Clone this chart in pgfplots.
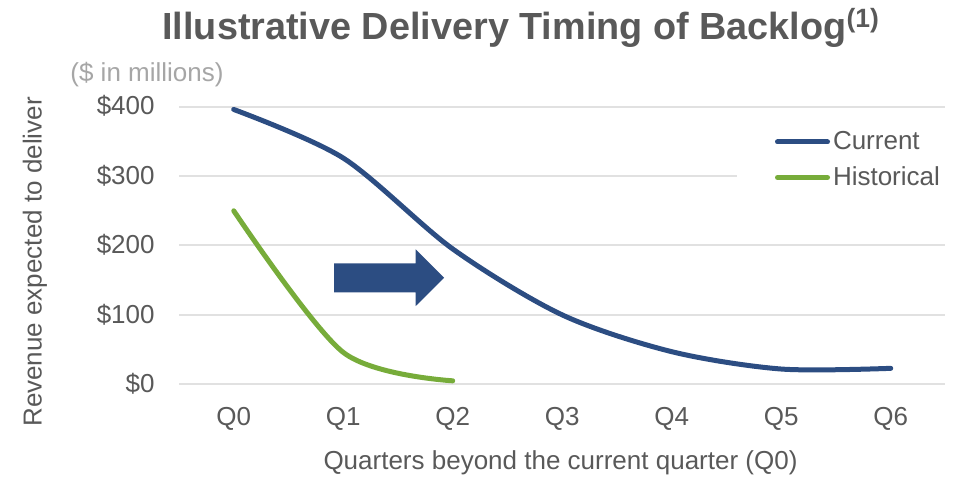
\documentclass[border=0pt]{standalone}
\usepackage{fontspec}
\setmainfont{Liberation Sans}
\usepackage{pgfplots}
\pgfplotsset{compat=1.18}

\definecolor{curblue}{RGB}{44,77,130}
\definecolor{hisgreen}{RGB}{119,172,58}
\definecolor{tgray}{RGB}{89,89,89}
\definecolor{lgray}{RGB}{166,166,166}
\definecolor{gridgray}{RGB}{225,225,225}

\begin{document}
\begin{tikzpicture}
% 1 px of the reference = 0.5pt
\path[use as bounding box] (0pt,0pt) rectangle (482pt,240.5pt);

\begin{axis}[
    at={(89.5pt,48.35pt)}, anchor=south west,
    scale only axis,
    width=383.25pt, height=138.8pt,
    xmin=-0.5, xmax=6.5,
    ymin=0, ymax=400,
    clip=false,
    axis line style={draw=none},
    major tick length=0pt,
    xtick={0,1,2,3,4,5,6},
    xticklabels={Q0,Q1,Q2,Q3,Q4,Q5,Q6},
    ytick={0,100,200,300,400},
    yticklabels={\$0,\$100,\$200,\$300,\$400},
    ymajorgrids,
    grid style={gridgray, line width=1pt},
    tick label style={font=\fontsize{13}{15}\selectfont, text=tgray, inner sep=0pt},
    xticklabel style={anchor=base, yshift=-20.5pt},
    yticklabel style={anchor=base east, xshift=-12pt, yshift=-4.15pt},
    legend style={
        at={(0.7275,0.934)}, anchor=north west,
        draw=none, fill=white,
        inner xsep=19pt, inner ysep=3pt,
        font=\fontsize{13}{15}\selectfont, text=tgray,
        row sep=7pt,
        nodes={inner xsep=1.5pt, inner ysep=0pt},
    },
    legend cell align=left,
    legend image code/.code={
        \draw[#1, line cap=round] (1.25pt,0pt) -- (26.25pt,0pt);
    },
]
\addplot[curblue, line width=2.5pt, line cap=round, smooth]
    coordinates {(0,396) (1,326) (2,195) (3,100) (4,47) (5,22) (6,23)};
\addlegendentry{Current}
\addplot[hisgreen, line width=2.5pt, line cap=round, smooth]
    coordinates {(0,250) (1,46) (2,5)};
\addlegendentry{Historical}

% block arrow
\fill[curblue] (axis cs:0.916,132.6) -- (axis cs:1.662,132.6)
    -- (axis cs:1.662,112.8) -- (axis cs:1.921,153.6)
    -- (axis cs:1.662,194.5) -- (axis cs:1.662,174.4)
    -- (axis cs:0.916,174.4) -- cycle;
\end{axis}

\node[anchor=base west, inner sep=0pt, text=tgray,
      font=\fontsize{18.9}{22}\selectfont\bfseries]
    at (81pt,220.5pt) {Illustrative Delivery Timing of Backlog\textsuperscript{(1)}};
\node[text=lgray, font=\fontsize{13}{15}\selectfont]
    at (73.5pt,203pt) {(\$ in millions)};
\node[rotate=90, text=tgray, font=\fontsize{13}{15}\selectfont]
    at (17.5pt,109.5pt) {Revenue expected to deliver};
\node[anchor=base, inner sep=0pt, text=tgray, font=\fontsize{13}{15}\selectfont]
    at (280.25pt,5.5pt) {Quarters beyond the current quarter (Q0)};
\end{tikzpicture}
\end{document}
